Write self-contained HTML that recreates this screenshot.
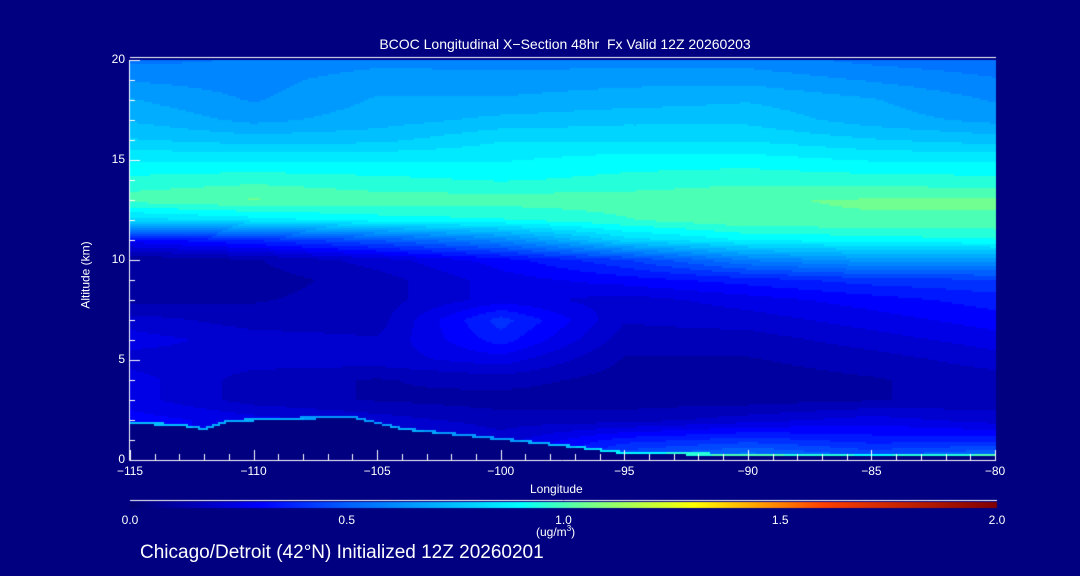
<!DOCTYPE html>
<html><head><meta charset="utf-8"><style>
body{margin:0;background:#000080;width:1080px;height:576px;overflow:hidden;font-family:"Liberation Sans",sans-serif;color:#fff}
.t{position:absolute;white-space:nowrap;color:#fff}
#wrap{position:relative;width:1080px;height:576px}
</style></head><body>
<div id="wrap">
<div class="t" style="left:0;width:1130px;text-align:center;top:36px;font-size:14px">BCOC Longitudinal X−Section 48hr&nbsp; Fx Valid 12Z 20260203</div>
<canvas id="cv" width="1080" height="576" style="position:absolute;left:0;top:0"></canvas>
<div class="t" style="left:52px;top:268px;font-size:12px;transform:rotate(-90deg)">Altitude (km)</div>
<div class="t" style="left:530px;top:482px;font-size:12px">Longitude</div>
<div class="t" style="left:536px;top:524px;font-size:12px">(ug/m<sup style="font-size:8px">3</sup>)</div>
<div class="t" style="left:140px;top:542px;font-size:19px">Chicago/Detroit (42°N) Initialized 12Z 20260201</div>
<div id="labels"></div>
</div>
<script>
const lons=[-115,-110,-105,-100,-95,-90,-85,-80];
const alts=[0,1,2,3,4,5,6,7,8,9,10,11,12,13,14,15,16,17,18,19,20];
const terrainLons=[-115,-113,-112,-111,-109,-106,-104,-100,-97,-95,-90,-80];
const terrain=[1.8,1.7,1.5,1.9,2.0,2.1,1.5,1.0,0.6,0.3,0.2,0.2];
const conc=[
[0,0,0,.2,.5,.6,.5,.6],
[.25,.3,.3,.2,.35,.4,.35,.35],
[.3,.25,.2,.15,.15,.2,.25,.2],
[.25,.15,.12,.1,.1,.1,.12,.15],
[.25,.15,.12,.15,.1,.1,.12,.15],
[.2,.2,.2,.25,.12,.12,.15,.2],
[.25,.2,.18,.35,.15,.15,.2,.25],
[.2,.15,.15,.4,.18,.2,.25,.3],
[.1,.12,.15,.25,.2,.25,.3,.35],
[.08,.1,.15,.25,.3,.35,.4,.42],
[.08,.12,.2,.3,.42,.58,.65,.65],
[.3,.38,.48,.6,.8,.88,.9,.92],
[.8,.85,.9,.92,.97,1.02,1.02,1.02],
[1.0,1.03,1.0,1.0,1.0,1.02,1.03,1.03],
[.94,.96,.94,.92,.94,.96,.95,.94],
[.87,.87,.87,.87,.9,.9,.87,.87],
[.78,.75,.76,.82,.82,.82,.78,.75],
[.72,.66,.7,.74,.76,.76,.7,.66],
[.68,.62,.68,.68,.7,.72,.68,.62],
[.62,.6,.66,.65,.66,.66,.62,.58],
[.56,.58,.6,.6,.6,.6,.56,.54]];
const xTicks=[-115,-110,-105,-100,-95,-90,-85,-80];
const yTicks=[0,5,10,15,20];
const cbTicks=[0.0,0.5,1.0,1.5,2.0];
const X0=130,X1=995,Y0=460,Y1=60,CB0=130,CB1=997;
const xs=v=>X0+(v-lons[0])/(lons[lons.length-1]-lons[0])*(X1-X0);
const ys=v=>Y0-(v-alts[0])/(alts[alts.length-1]-alts[0])*(Y0-Y1);
const stops=[[0,[0,0,112]],[0.3,[0,0,255]],[0.5,[0,96,255]],[0.75,[0,192,255]],[0.9,[0,255,255]],[1.05,[112,255,144]],[1.3,[255,255,0]],[1.6,[255,64,0]],[2.0,[128,0,0]]];
function cmap(v){v=Math.max(0,Math.min(2,v));for(let i=1;i<stops.length;i++){if(v<=stops[i][0]){const a=stops[i-1],b=stops[i],t=(v-a[0])/(b[0]-a[0]);return 'rgb('+a[1].map((c,k)=>Math.round(c+(b[1][k]-c)*t)).join(',')+')';}}return 'rgb(128,0,0)';}
function interp(xsA,x){let i=0;while(i<xsA.length-2&&x>xsA[i+1])i++;const t=Math.max(0,Math.min(1,(x-xsA[i])/(xsA[i+1]-xsA[i])));return [i,t];}
const c=document.getElementById('cv').getContext('2d');
const lonSpan=lons[lons.length-1]-lons[0],altSpan=alts[alts.length-1]-alts[0];
for(let px=X0;px<X1;px+=2){
 const lon=lons[0]+(px+1-X0)/(X1-X0)*lonSpan;
 const [i,t]=interp(lons,lon);
 const [k,s]=interp(terrainLons,lon);
 const ter=terrain[k]*(1-s)+terrain[k+1]*s;
 for(let py=Y1;py<Y0;py+=2){
  const alt=alts[0]+(Y0-(py+1))/(Y0-Y1)*altSpan;
  let col;
  if(alt<ter){col='rgb(0,0,128)';}
  else{const [j,u]=interp(alts,alt);
   let v=(conc[j][i]*(1-t)+conc[j][i+1]*t)*(1-u)+(conc[j+1][i]*(1-t)+conc[j+1][i+1]*t)*u;
   if(alt-ter<0.12)v+=0.45;
   v=Math.round(v*20)/20;
   col=cmap(v);}
  c.fillStyle=col;c.fillRect(px,py,2,2);
 }
}
c.strokeStyle='#fff';c.lineWidth=1;
c.beginPath();c.moveTo(X0-0.5,Y1);c.lineTo(X0-0.5,Y0+0.5);c.lineTo(X1+1,Y0+0.5);c.stroke();
c.beginPath();c.moveTo(X0,57.5);c.lineTo(X1+1,57.5);c.stroke();
for(let v=lons[0];v<=lons[lons.length-1];v++){const x=Math.round(xs(v))+0.5;c.beginPath();c.moveTo(x,Y0);c.lineTo(x,Y0-(v%5===0?10:6));c.stroke();}
for(let v=0;v<=20;v++){const y=Math.round(ys(v))+0.5;c.beginPath();c.moveTo(X0,y);c.lineTo(X0+(v%5===0?10:5),y);c.stroke();}
c.beginPath();c.moveTo(CB0,500.5);c.lineTo(CB1,500.5);c.stroke();
for(let px=CB0;px<CB1;px++){c.fillStyle=cmap((px-CB0)/(CB1-CB0)*2);c.fillRect(px,502,1,6);}
const L=document.getElementById('labels');
function lab(txt,x,y,name,align){const d=document.createElement('div');d.className='t';d.textContent=txt;d.style.fontSize='12px';d.style.top=y+'px';
 if(align==='r'){d.style.right=(1080-x)+'px';}else{d.style.left=x+'px';d.style.transform='translateX(-50%)';}
 
 
 L.appendChild(d);}
xTicks.forEach(v=>lab(String(v).replace('-','−'),xs(v),464,'x-tick-label'));
yTicks.forEach(v=>lab(String(v),125,ys(v)-8,'y-tick-label','r'));
cbTicks.forEach(v=>lab(v.toFixed(1),CB0+v/2*(CB1-CB0),513,'colorbar-tick-label'));
</script>
</body></html>
